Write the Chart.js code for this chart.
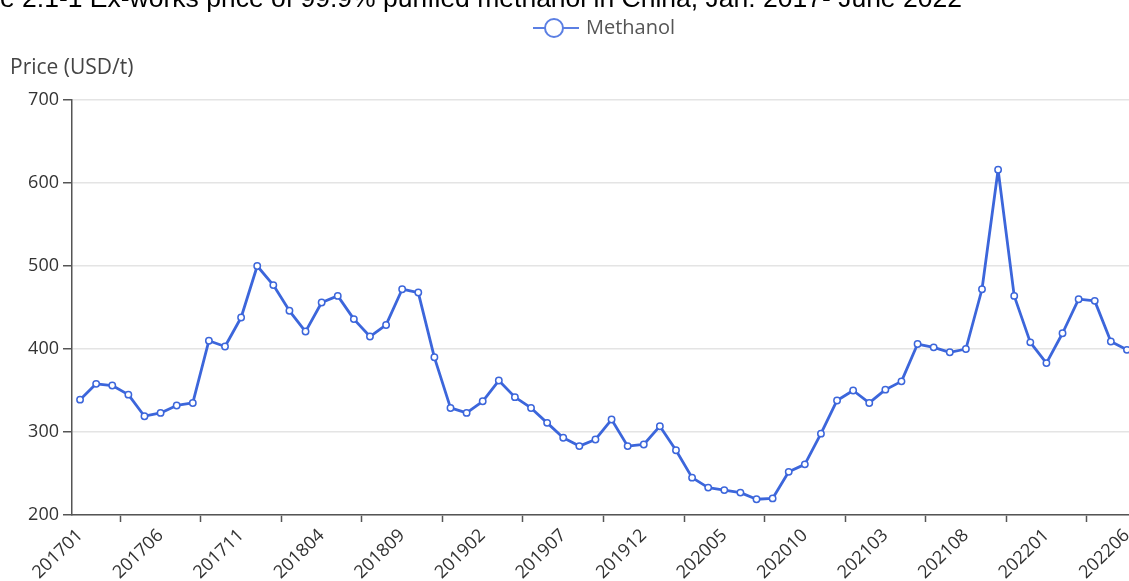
<!DOCTYPE html>
<html>
<head>
<meta charset="utf-8">
<script src="https://cdn.jsdelivr.net/npm/chart.js@4"></script>
<style>
  html, body { margin: 0; padding: 0; overflow: hidden; background: #fff; }
  #wrap { position: absolute; left: 0; top: 0; width: 1145px; height: 581px; }
</style>
</head>
<body>
<div id="wrap"><canvas id="myChart"></canvas></div>
<script>
// months Jan 2017 .. Jun 2022
const months = [
  "201701","201702","201703","201704","201705","201706","201707","201708","201709","201710","201711","201712",
  "201801","201802","201803","201804","201805","201806","201807","201808","201809","201810","201811","201812",
  "201901","201902","201903","201904","201905","201906","201907","201908","201909","201910","201911","201912",
  "202001","202002","202003","202004","202005","202006","202007","202008","202009","202010","202011","202012",
  "202101","202102","202103","202104","202105","202106","202107","202108","202109","202110","202111","202112",
  "202201","202202","202203","202204","202205","202206"
];

// price, USD/t
const methanolPrice = [
  339, 358, 356, 345, 319, 323, 332, 335, 410, 403, 438, 500,
  477, 446, 421, 456, 464, 436, 415, 429, 472, 468, 390, 329,
  323, 337, 362, 342, 329, 311, 293, 283, 291, 315, 283, 285,
  307, 278, 245, 233, 230, 227, 219, 220, 252, 261, 298, 338,
  350, 335, 351, 361, 406, 402, 396, 400, 472, 616, 464, 408,
  383, 419, 460, 458, 409, 399
];

const seriesName = "Methanol";
const titleText = "Figure 2.1-1 Ex-works price of 99.9% purified methanol in China, Jan. 2017- June 2022";
const yTitle = "Price (USD/t)";

const blue = "#3c66db";
const axisColor = "#555";

// title (cut at the top), legend and axis name
const extras = {
  id: "extras",
  afterDraw(chart) {
    const c = chart.ctx;
    c.save();
    // title, only the lower part is visible
    c.font = "26.5px 'Liberation Sans', Arial, sans-serif";
    c.fillStyle = "#000";
    c.textBaseline = "alphabetic";
    const skip = c.measureText("Figur").width;
    c.fillText(titleText, -skip, 7);

    // legend
    const ly = 28;
    c.strokeStyle = "#5b7fe3";
    c.lineWidth = 2;
    c.beginPath();
    c.moveTo(533, ly);
    c.lineTo(579, ly);
    c.stroke();
    c.beginPath();
    c.arc(554, ly, 9, 0, Math.PI * 2);
    c.fillStyle = "#fff";
    c.fill();
    c.stroke();
    c.font = "20px 'Open Sans', sans-serif";
    c.fillStyle = "#555";
    c.textBaseline = "middle";
    c.fillText(seriesName, 586, ly);

    // y axis name
    c.font = "21px 'Open Sans', sans-serif";
    c.fillStyle = "#444";
    c.fillText(yTitle, 10, 68);
    c.restore();
  }
};

const ctx = document.getElementById("myChart");
new Chart(ctx, {
  type: "line",
  data: {
    labels: months,
    datasets: [
      {
        label: seriesName,
        data: methanolPrice,
        borderColor: blue,
        borderWidth: 2.8,
        borderJoinStyle: "round",
        tension: 0,
        pointRadius: 3.2,
        pointBorderWidth: 1.5,
        pointBackgroundColor: "#fff",
        pointBorderColor: blue,
      },
    ],
  },
  options: {
    responsive: true,
    maintainAspectRatio: false,
    animation: false,
    layout: { padding: { top: 100, right: 0, bottom: 0, left: 0 } },
    plugins: {
      legend: { display: false },
      title: { display: false },
      tooltip: { enabled: false },
    },
    scales: {
      x: {
        offset: true,
        afterFit(scale) { scale.height = 66; },
        grid: {
          offset: true,
          drawOnChartArea: false,
          tickLength: 7,
          tickWidth: 1.5,
          tickColor: (c) => (c.index % 5 === 3 ? axisColor : "transparent"),
        },
        border: { color: axisColor, width: 1.5 },
        ticks: {
          autoSkip: false,
          maxRotation: 44,
          minRotation: 44,
          padding: 3,
          color: "#333",
          font: { family: "'Open Sans', sans-serif", size: 18 },
          callback: (v, i) => (i % 5 === 0 ? months[i] : ""),
        },
      },
      y: {
        min: 200,
        max: 700,
        afterFit(scale) { scale.width = 72; },
        grid: { color: "#e4e4e4", lineWidth: 1.5, tickLength: 9, tickColor: axisColor },
        border: { color: axisColor, width: 1.5 },
        ticks: {
          stepSize: 100,
          padding: 4,
          color: "#333",
          font: { family: "'Open Sans', sans-serif", size: 18 },
        },
      },
    },
  },
  plugins: [extras],
});
</script>
</body>
</html>
